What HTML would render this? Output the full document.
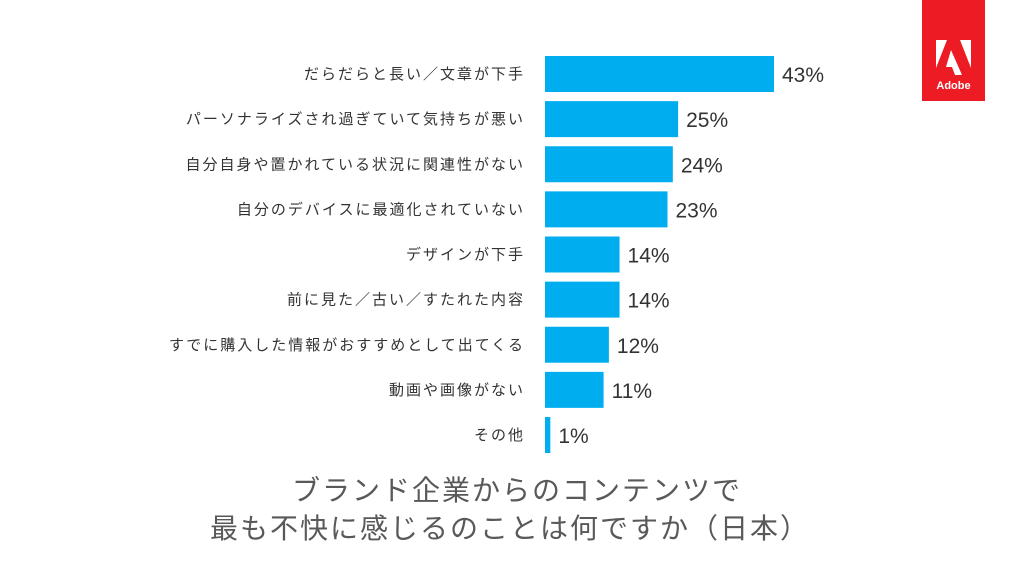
<!DOCTYPE html>
<html><head><meta charset="utf-8"><style>
body{margin:0;width:1024px;height:576px;background:#fff;overflow:hidden;font-family:"Liberation Sans","Noto Sans CJK JP",sans-serif;}
</style></head><body>
<svg width="1024" height="576" id="c">
<g>
<rect x="922" y="0" width="63" height="101" fill="#ED1C24"/>
<polygon points="936,40 947,40 936,68" fill="#fff"/>
<polygon points="960,40 971,40 971,68" fill="#fff"/>
<polygon points="951,50 962,75 955,75 952,67 946,67" fill="#fff"/>
<text x="953.5" y="89" text-anchor="middle" font-size="11" font-weight="bold" fill="#fff">Adobe</text>
</g>
<g id="bars"></g>
<text x="517" y="500" text-anchor="middle" font-size="28" letter-spacing="2" fill="#595959">ブランド企業からのコンテンツで</text>
<text x="510" y="538" text-anchor="middle" font-size="28" letter-spacing="2" fill="#595959">最も不快に感じるのことは何ですか（日本）</text>
</svg>
<script>
const categories=["だらだらと長い／文章が下手","パーソナライズされ過ぎていて気持ちが悪い","自分自身や置かれている状況に関連性がない","自分のデバイスに最適化されていない","デザインが下手","前に見た／古い／すたれた内容","すでに購入した情報がおすすめとして出てくる","動画や画像がない","その他"];
const values=[43,25,24,23,14,14,12,11,1];
const x0=545, pxPer=229/43, y0=56, pitch=45.125, bh=36;
const xs=v=>x0+v*pxPer, ys=i=>y0+i*pitch;
const g=document.getElementById('bars'), NS="http://www.w3.org/2000/svg";
categories.forEach((c,i)=>{
 const r=document.createElementNS(NS,'rect');
 r.setAttribute('x',x0);r.setAttribute('y',ys(i));r.setAttribute('width',xs(values[i])-x0);r.setAttribute('height',bh);r.setAttribute('fill','#00AEEF');
 
 
 g.appendChild(r);
 const l=document.createElementNS(NS,'text');
 l.setAttribute('x',525);l.setAttribute('y',ys(i)+bh/2+5);l.setAttribute('text-anchor','end');l.setAttribute('font-size','15');l.setAttribute('letter-spacing','2');l.setAttribute('fill','#333');l.textContent=c;
 
 
 g.appendChild(l);
 const v=document.createElementNS(NS,'text');
 v.setAttribute('x',xs(values[i])+8);v.setAttribute('y',ys(i)+bh/2+8);v.setAttribute('font-size','21');v.setAttribute('fill','#333');v.textContent=values[i]+'%';
 
 
 g.appendChild(v);
});
</script>
</body></html>
